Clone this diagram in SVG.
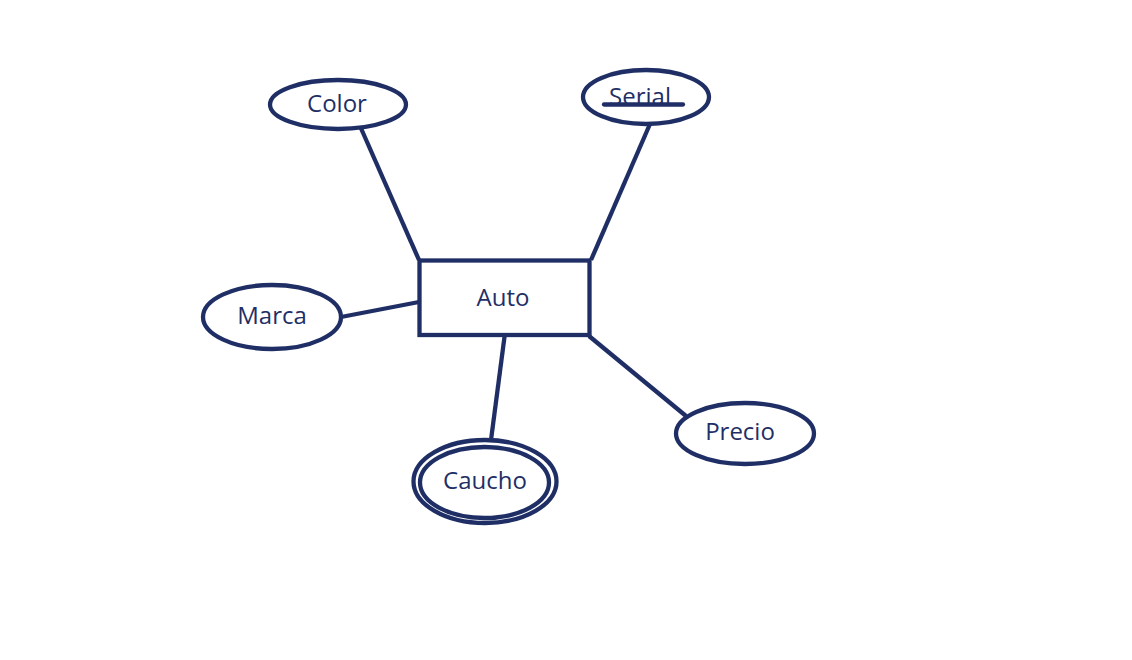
<svg xmlns="http://www.w3.org/2000/svg" width="1132" height="660" viewBox="0 0 1132 660">
<style>
.s{fill:none;stroke:#1F2F66;stroke-width:4.3}
.b{fill:#fff;stroke:#1F2F66;stroke-width:4.3}
.t{font-family:"Open Sans","Noto Sans","Liberation Sans",sans-serif;font-size:24px;fill:#1F2F66;text-anchor:middle}
</style>
<rect width="1132" height="660" fill="#fff"/>
<g id="connectors">
<line class="s" x1="360" y1="126" x2="419" y2="260"/>
<line class="s" x1="650" y1="124" x2="591" y2="260"/>
<line class="s" x1="341" y1="317" x2="419" y2="302"/>
<line class="s" x1="505" y1="333" x2="491" y2="440"/>
<line class="s" x1="589" y1="336" x2="686" y2="416"/>
</g>
<g id="auto">
<rect class="b" x="419.5" y="260.5" width="170" height="74.5"/>
<text class="t" x="503" y="306">Auto</text>
</g>
<g id="color">
<ellipse class="b" cx="338" cy="104.5" rx="68" ry="24.5"/>
<text class="t" x="337" y="112">Color</text>
</g>
<g id="serial">
<ellipse class="b" cx="646" cy="97" rx="63" ry="27"/>
<text class="t" x="640" y="105">Serial</text>
<line class="s" x1="604" y1="104.5" x2="683" y2="104.5" stroke-linecap="round"/>
</g>
<g id="marca">
<ellipse class="b" cx="272" cy="317" rx="69" ry="32"/>
<text class="t" x="272" y="324">Marca</text>
</g>
<g id="precio">
<ellipse class="b" cx="745" cy="433.5" rx="69" ry="30.5"/>
<text class="t" x="740" y="440">Precio</text>
</g>
<g id="caucho">
<ellipse class="b" cx="485" cy="481.5" rx="71.5" ry="41.5"/>
<ellipse class="s" cx="484.5" cy="482.5" rx="64.5" ry="35.5"/>
<text class="t" x="485" y="489">Caucho</text>
</g>
</svg>
